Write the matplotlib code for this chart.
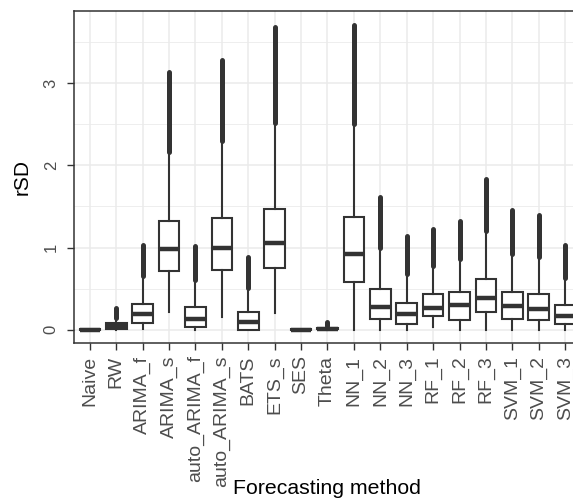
import matplotlib
matplotlib.use("Agg")
import matplotlib.pyplot as plt

plt.rcParams['font.family'] = ['Liberation Sans', 'DejaVu Sans']

methods = ['Naive', 'RW', 'ARIMA_f', 'ARIMA_s', 'auto_ARIMA_f', 'auto_ARIMA_s',
           'BATS', 'ETS_s', 'SES', 'Theta', 'NN_1', 'NN_2', 'NN_3',
           'RF_1', 'RF_2', 'RF_3', 'SVM_1', 'SVM_2', 'SVM_3']

# box statistics
q1 =      [0.0, 0.012, 0.08, 0.715, 0.03, 0.727, 0.0, 0.75, 0.0, 0.005, 0.585,
           0.133, 0.073, 0.174, 0.12, 0.214, 0.13, 0.12, 0.073]
median =  [0.0, 0.045, 0.19, 0.98, 0.13, 1.0, 0.09, 1.05, 0.0, 0.012, 0.92,
           0.283, 0.194, 0.27, 0.30, 0.39, 0.295, 0.25, 0.17]
q3 =      [0.008, 0.081, 0.315, 1.32, 0.275, 1.365, 0.22, 1.475, 0.008, 0.025, 1.373,
           0.493, 0.331, 0.436, 0.465, 0.62, 0.46, 0.436, 0.30]
whis_lo = [0.0, 0.0, 0.01, 0.22, 0.0, 0.16, 0.0, 0.20, 0.0, 0.0, 0.0,
           0.0, 0.0, 0.04, 0.0, 0.0, 0.0, 0.0, 0.0]
whis_hi = [0.01, 0.14, 0.655, 2.16, 0.61, 2.30, 0.505, 2.51, 0.01, 0.05, 2.505,
           0.99, 0.68, 0.78, 0.86, 1.20, 0.92, 0.88, 0.625]
# outliers form a dense column from flier_lo up to flier_hi
flier_lo = [None, 0.14, 0.655, 2.16, 0.61, 2.30, 0.505, 2.51, None, 0.05, 2.505,
            0.99, 0.68, 0.78, 0.86, 1.20, 0.92, 0.88, 0.625]
flier_hi = [None, 0.26, 1.03, 3.13, 1.02, 3.28, 0.88, 3.68, None, 0.10, 3.71,
            1.62, 1.14, 1.22, 1.325, 1.83, 1.46, 1.39, 1.03]

dark = '#333333'
grid = '#EBEBEB'
W, H = 573, 499

fig = plt.figure(figsize=(W / 100, H / 100), dpi=100)
ax = fig.add_axes([74 / W, 1 - 343 / H, (581 - 74) / W, 332 / H])

pos = list(range(1, len(methods) + 1))
stats = []
for i, m in enumerate(methods):
    stats.append(dict(label=m, q1=q1[i], med=median[i], q3=q3[i],
                      whislo=whis_lo[i], whishi=whis_hi[i], fliers=[]))

ax.bxp(stats, positions=pos, widths=0.78, showcaps=False, showfliers=False,
       patch_artist=True,
       boxprops=dict(facecolor='white', edgecolor=dark, linewidth=1.5),
       whiskerprops=dict(color=dark, linewidth=1.5),
       medianprops=dict(color=dark, linewidth=3.2, solid_capstyle='butt'),
       zorder=3)

for x, lo, hi in zip(pos, flier_lo, flier_hi):
    if lo is None:
        continue
    ax.plot([x, x], [lo, hi], color=dark, lw=3.6, solid_capstyle='round', zorder=4)

ax.set_xlim(0.4, len(methods) + 0.6)
ax.set_ylim(-0.16, 3.876)

ax.set_yticks([0, 1, 2, 3])
ax.set_yticks([0.5, 1.5, 2.5, 3.5], minor=True)
ax.set_yticklabels(['0', '1', '2', '3'], rotation=90, va='center', color='#4D4D4D', fontsize=12)
ax.set_xticks(pos)
ax.set_xticklabels(methods, rotation=90, ha='center', va='top', color='#4D4D4D', fontsize=14)

ax.grid(True, which='major', color=grid, linewidth=1.1, zorder=0)
ax.grid(True, which='minor', axis='y', color=grid, linewidth=0.6, zorder=0)
ax.set_axisbelow(True)
ax.tick_params(which='major', length=5, width=1, color=dark)
ax.tick_params(axis='x', pad=4)
ax.tick_params(axis='y', pad=6)
ax.tick_params(which='minor', length=0)
for s in ax.spines.values():
    s.set_color(dark)
    s.set_linewidth(1.1)

fig.text(327 / W, 1 - 489 / H, 'Forecasting method', fontsize=15.3, ha='center', va='center')
fig.text(22 / W, 1 - 177 / H, 'rSD', fontsize=15, rotation=90, ha='center', va='center')

fig.savefig('out.png', dpi=100)
